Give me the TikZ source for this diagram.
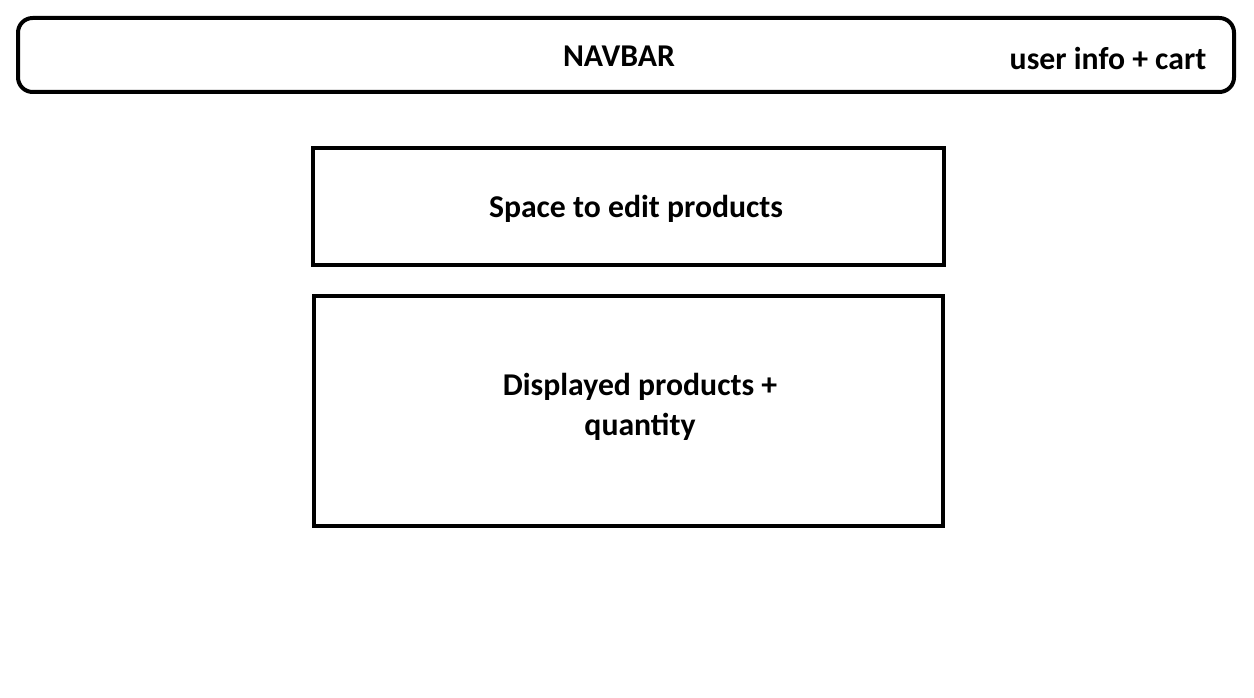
\documentclass[tikz,border=0pt]{standalone}
\usepackage{fontspec}
\setmainfont{Carlito}
\tikzset{every picture/.style={line width=0.75pt}}
\tikzset{
  boxline/.style={draw, line width=3pt},
  boxtext/.style={inner sep=0.75pt, font=\fontsize{23.8}{29.5}\bfseries\selectfont, align=center}
}
\begin{document}
\begin{tikzpicture}[x=0.75pt,y=0.75pt,yscale=-1,xscale=1]
\useasboundingbox (0,0) rectangle (1254,698);

%Shape: Rounded Rect [id:navbar]
\draw [boxline, rounded corners=11pt] (18,18) rectangle (1234,92);
%Shape: Rectangle [id:editbox]
\draw [boxline] (313,148) rectangle (944,265);
%Shape: Rectangle [id:productbox]
\draw [boxline] (314,296) rectangle (943,526);

% Text Node
\node (navbar) [boxtext] at (619,56) {NAVBAR};
% Text Node
\node (userinfo) [boxtext] at (1108,58) {user info + cart};
% Text Node
\node (edit) [boxtext] at (636,209) {Space to edit products};
% Text Node
\node (products) [boxtext] at (640,407) {Displayed products +\\quantity};

\end{tikzpicture}
\end{document}
